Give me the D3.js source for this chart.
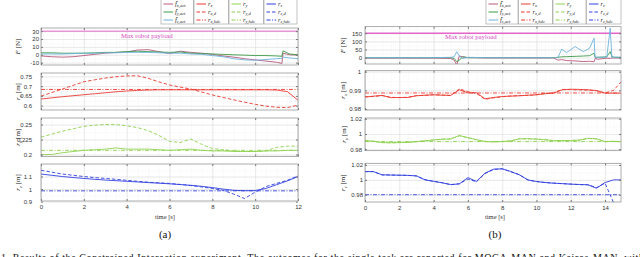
<!DOCTYPE html>
<html>
<head>
<meta charset="utf-8">
<script src="https://cdn.jsdelivr.net/npm/d3@7"></script>
<style>
  body { margin: 0; background: #fff; }
  svg { display: block; font-family: "Liberation Serif", "DejaVu Serif", serif; }
</style>
</head>
<body>
<div id="chart"></div>
<script>
// ---- panel (a) data ----
var aTime = [0,0.5,1,1.5,2,2.5,3,3.5,4,4.5,5,5.5,6,6.5,7,7.5,8,8.5,9,9.5,10,10.5,11,11.5,12];
var aEnds = [0, 12];
var aForceTime = [0,0.5,1,1.5,2,2.5,3,3.5,4,4.5,5,5.5,6,6.5,7,7.5,8,8.5,9,9.5,10,10.5,11,11.25,11.3,11.6,12];
var aFx = [-1.5,-2.5,-3,-2.5,-1,0.5,2,3,3.5,6,6.5,4,1.5,4.5,3,2,0.5,-1.5,-3,-5,-6.5,-8,-9.5,-11,2,0,-0.5];
var aFy = [2.5,2.5,2,2,2,2.5,3,3,4,4.5,4,3.5,3,3.5,2,1.5,1,0.5,0,-0.5,-1,-1,-1.5,-2,5,1,0];
var aFz = [1,1,1,1.5,2,2,2.5,2.5,3,3,3,2.5,2,2,1,0.5,-1,-2.5,-5,-6.5,-7,-6,-5,-4.5,-3,-4,-5];
var aPayload = [30, 30];
var aRx = [0.634,0.640,0.646,0.651,0.656,0.661,0.666,0.671,0.675,0.678,0.680,0.681,0.681,0.681,0.681,0.681,0.681,0.681,0.681,0.681,0.681,0.681,0.680,0.672,0.628];
var aRxD = [0.649,0.667,0.685,0.704,0.722,0.732,0.741,0.748,0.752,0.753,0.740,0.722,0.706,0.695,0.685,0.670,0.655,0.642,0.630,0.618,0.607,0.598,0.592,0.590,0.603];
var aRxHdc = [0.683, 0.683];
var aRy = [0.200,0.200,0.203,0.205,0.207,0.208,0.209,0.211,0.209,0.209,0.209,0.208,0.207,0.208,0.209,0.207,0.206,0.206,0.205,0.205,0.205,0.206,0.206,0.207,0.207];
var aRyD = [0.229,0.234,0.239,0.243,0.247,0.249,0.250,0.250,0.248,0.245,0.240,0.232,0.222,0.220,0.226,0.217,0.210,0.208,0.206,0.205,0.205,0.206,0.212,0.214,0.214];
var aRyHdc = [0.207, 0.207];
var aRz = [1.120,1.110,1.100,1.092,1.085,1.078,1.072,1.067,1.062,1.057,1.052,1.047,1.042,1.036,1.030,1.022,1.012,1.000,0.990,0.987,0.988,1.005,1.035,1.065,1.100];
var aRzD = [1.150,1.135,1.120,1.110,1.100,1.092,1.085,1.078,1.070,1.062,1.055,1.050,1.045,1.037,1.028,1.017,1.005,0.990,0.960,0.925,0.975,1.020,1.045,1.070,1.105];
var aRzHdc = [0.986, 0.986];

// ---- panel (b) data ----
var bTime = [0,0.5,1,1.5,2,2.5,3,3.5,4,4.5,5,5.5,6,6.5,7,7.5,8,8.5,9,9.5,10,10.5,11,11.5,12,12.5,13,13.5,14,14.5,14.93];
var bEnds = [0, 14.93];
var bForceTime = [0,1,2,3,4,5,5.2,5.35,5.5,5.7,6,7,8,9,10,11,11.26,11.47,11.76,12.25,12.73,13.1,13.36,13.42,13.6,14.1,14.3,14.4,14.6,14.93];
var bFx = [-3,-3,-3,-3,-3,-5,-15,-45,10,5,0,-2,-2,-2,-2,-2,-15,-12,-18,-20,-24,-22,-25,-5,-10,-3,-5,-2,-2,-2];
var bFy = [0,0,0,0,0,0,-5,-25,-15,5,0,0,0,0,0,0,2,5,6,8,10,12,27,3,2,5,37,5,2,2];
var bFz = [0,0,0,0,0,2,5,37,10,-5,2,0,0,0,0,0,2,52,31,68,37,58,120,0,3,2,181,0,3,2];
var bPayload = [150, 150];
var bRx = [.9864,.9869,.9873,.9861,.9862,.9862,.9871,.9874,.9876,.9874,.9873,.9903,.9887,.9887,.9855,.9862,.9867,.9869,.9871,.9874,.9876,.9882,.9885,.9903,.9906,.9905,.9903,.9899,.9885,.9885,.9885];
var bRxD = [.9866,.9867,.9872,.9863,.9861,.9863,.9872,.9873,.9877,.9875,.9872,.9908,.9893,.9884,.9852,.9860,.9866,.9870,.9872,.9873,.9877,.9883,.9887,.9905,.9904,.9902,.9901,.9898,.9886,.9900,.9945];
var bRxHdc = [.9886, .9886];
var bRy = [.9912,.9905,.9886,.9885,.9886,.9888,.9900,.9910,.9922,.9930,.9935,.9980,.9950,.9925,.9900,.9898,.9900,.9910,.9935,.9938,.9932,.9925,.9912,.9915,.9912,.9920,.9943,.9935,.9900,.9902,.9900];
var bRyD = [.9915,.9903,.9888,.9883,.9888,.9890,.9898,.9912,.9920,.9933,.9933,.9975,.9955,.9922,.9903,.9895,.9902,.9908,.9938,.9935,.9935,.9922,.9915,.9912,.9915,.9918,.9940,.9938,.9898,.9905,.9895];
var bRyHdc = [.990, .990];
var bRz = [1.0113,1.0110,1.0068,1.0065,1.0063,1.0060,1.0054,1.0000,.9981,.9960,.9937,.9945,1.0030,.9980,1.0090,1.0144,1.0148,1.0113,1.0068,1.0000,.9977,.9965,.9955,.9950,.9942,.9938,.9933,.9888,.9964,1.0000,1.0000];
var bRzD = [1.0110,1.0112,1.0066,1.0066,1.0062,1.0061,1.0052,1.0002,.9979,.9962,.9935,.9948,1.0010,.9975,1.0085,1.0140,1.0150,1.0110,1.0070,.9998,.9978,.9963,.9957,.9948,.9944,.9936,.9935,.9895,.9955,.9690,.9550];
var bRzHdc = [.98, .98];

// ---- tick labels ----
var aXTicks = [0,2,4,6,8,10,12];
var bXTicks = [0,2,4,6,8,10,12,14];
var aFTicks = [-10,0,10,20,30];
var aRxTicks = [0.6,0.65,0.7,0.75];
var aRyTicks = [0.2,0.225,0.25];
var aRzTicks = [0.9,1,1.1];
var bFTicks = [0,50,100,150];
var bRxTicks = [0.98,0.99,1];
var bRyTicks = [0.98,1,1.02];
var bRzTicks = [0.98,1,1.02];

var C = {
    fx: "#b8577a", fy: "#3b9b47", fz: "#6db3e0",
    rx: "#ec3a30", ry: "#8fd14f", rz: "#3040e0",
    pay: "#e665c8", payText: "#d94bbf"
};
var DASH = "3.5,2", DASHDOT = "4,1.5,1,1.5";

var svg = d3.select("#chart").append("svg")
        .attr("width", 640)
        .attr("height", 257);

function yLabel(g, x, y, sym, sub, unit) {
    var t = g.append("text")
            .attr("transform", "translate(" + x + "," + y + ") rotate(-90)")
            .attr("text-anchor", "middle")
            .style("font-size", "7px")
            .attr("fill", "#222");
    t.append("tspan").style("font-style", "italic").text(sym);
    if (sub) t.append("tspan").attr("dy", 1.5).style("font-size", "5px").style("font-style", "italic").text(sub);
    t.append("tspan").attr("dy", sub ? -1.5 : 0).text(" [" + unit + "]");
}

function drawPanel(p) {
    var x = d3.scaleLinear().domain(p.xDomain).range([p.x0, p.x1]);
    var width = p.x1 - p.x0;

    p.rows.forEach(function (r, ri) {
        var y = d3.scaleLinear().domain(r.domain).range([r.bottom, r.top]);
        var h = r.bottom - r.top;
        var g = svg.append("g");
        var clipId = "clip-" + p.name + ri;

        svg.append("clipPath").attr("id", clipId)
                .append("rect").attr("x", p.x0).attr("y", r.top).attr("width", width).attr("height", h);

        // minor grid
        var minorX = d3.range(p.xDomain[0], p.xDomain[1], 0.5);
        g.append("g")
                .attr("transform", "translate(0," + r.bottom + ")")
                .call(d3.axisBottom(x).tickValues(minorX).tickSize(-h).tickFormat(""))
                .call(function (s) { s.select(".domain").remove(); })
                .selectAll("line").attr("stroke", "#ececec").attr("stroke-width", 0.5).attr("stroke-dasharray", "1,1");
        var step = r.ticks[1] - r.ticks[0];
        var minorY = d3.range(r.ticks[0] - step, r.ticks[r.ticks.length - 1] + step * 1.01, step / 2)
                .filter(function (v) { return v >= r.domain[0] && v <= r.domain[1]; });
        g.append("g")
                .attr("transform", "translate(" + p.x0 + ",0)")
                .call(d3.axisLeft(y).tickValues(minorY).tickSize(-width).tickFormat(""))
                .call(function (s) { s.select(".domain").remove(); })
                .selectAll("line").attr("stroke", "#ececec").attr("stroke-width", 0.5).attr("stroke-dasharray", "1,1");

        // major grid
        g.append("g")
                .attr("transform", "translate(0," + r.bottom + ")")
                .call(d3.axisBottom(x).tickValues(p.xTicks).tickSize(-h).tickFormat(""))
                .call(function (s) { s.select(".domain").remove(); })
                .selectAll("line").attr("stroke", "#dedede").attr("stroke-width", 0.6);
        g.append("g")
                .attr("transform", "translate(" + p.x0 + ",0)")
                .call(d3.axisLeft(y).tickValues(r.ticks).tickSize(-width).tickFormat(""))
                .call(function (s) { s.select(".domain").remove(); })
                .selectAll("line").attr("stroke", "#dedede").attr("stroke-width", 0.6);

        // series
        var lg = g.append("g").attr("clip-path", "url(#" + clipId + ")");
        r.series.forEach(function (s) {
            var pts = s.t.map(function (t, i) { return [t, s.v[i]]; });
            lg.append("path")
                    .datum(pts)
                    .attr("fill", "none")
                    .attr("stroke", s.color)
                    .attr("stroke-width", s.w || 0.9)
                    .attr("stroke-dasharray", s.dash || null)
                    .attr("stroke-linejoin", "round")
                    .attr("d", d3.line().x(function (d) { return x(d[0]); }).y(function (d) { return y(d[1]); }));
        });

        if (r.payloadText) {
            g.append("text")
                    .attr("x", r.payloadText[0]).attr("y", r.payloadText[1])
                    .attr("fill", C.payText)
                    .style("font-size", "6.8px")
                    .text("Max robot payload");
        }

        // axes with inner ticks
        var yAxis = g.append("g")
                .attr("transform", "translate(" + p.x0 + ",0)")
                .call(d3.axisLeft(y).tickValues(r.ticks).tickSize(-2).tickPadding(r.pad)
                        .tickFormat(function (d) { return String(d); }));
        yAxis.select(".domain").remove();
        yAxis.selectAll("line").attr("stroke", "#777");
        yAxis.selectAll("text").style("font-size", "6px").attr("fill", "#333").attr("font-family", null);
        g.append("g")
                .attr("transform", "translate(" + p.x1 + ",0)")
                .call(d3.axisRight(y).tickValues(r.ticks).tickSize(-2).tickFormat(""))
                .call(function (s) { s.select(".domain").remove(); })
                .selectAll("line").attr("stroke", "#777");
        g.append("g")
                .attr("transform", "translate(0," + r.top + ")")
                .call(d3.axisTop(x).tickValues(p.xTicks).tickSize(-2).tickFormat(""))
                .call(function (s) { s.select(".domain").remove(); })
                .selectAll("line").attr("stroke", "#777");
        var xAxis = g.append("g")
                .attr("transform", "translate(0," + r.bottom + ")")
                .call(d3.axisBottom(x).tickValues(p.xTicks).tickSize(-2)
                        .tickPadding(4).tickFormat(ri === p.rows.length - 1 ? d3.format("d") : ""));
        xAxis.select(".domain").remove();
        xAxis.selectAll("line").attr("stroke", "#777");
        xAxis.selectAll("text").style("font-size", "6px").attr("fill", "#333").attr("font-family", null);

        g.append("rect")
                .attr("x", p.x0).attr("y", r.top).attr("width", width).attr("height", h)
                .attr("fill", "none").attr("stroke", "#8a8a8a").attr("stroke-width", 0.7);

        yLabel(g, r.labelX, (r.top + r.bottom) / 2, r.label[0], r.label[1], r.label[2]);
    });

    svg.append("text")
            .attr("x", p.xTitle).attr("y", 219)
            .attr("text-anchor", "middle")
            .style("font-size", "6.5px").attr("fill", "#333")
            .text("time [s]");
    svg.append("text")
            .attr("x", p.xTitle).attr("y", 238)
            .attr("text-anchor", "middle")
            .style("font-size", "11px").attr("fill", "#111")
            .text(p.tag);

    // legend
    var boxes = [
        [{c: C.fx, s: "f\u0302", sub: "x,act"}, {c: C.fy, s: "f\u0302", sub: "y,act"}, {c: C.fz, s: "f\u0302", sub: "z,act"}],
        [{c: C.rx, s: "r", sub: "x"}, {c: C.rx, s: "r", sub: "x,d", d: DASH}, {c: C.rx, s: "r", sub: "x,hdc", d: DASHDOT}],
        [{c: C.ry, s: "r", sub: "y"}, {c: C.ry, s: "r", sub: "y,d", d: DASH}, {c: C.ry, s: "r", sub: "y,hdc", d: DASHDOT}],
        [{c: C.rz, s: "r", sub: "z"}, {c: C.rz, s: "r", sub: "z,d", d: DASH}, {c: C.rz, s: "r", sub: "z,hdc", d: DASHDOT}]
    ];
    boxes.forEach(function (items, bi) {
        var bx = p.legend[bi][0], bw = p.legend[bi][1] - p.legend[bi][0];
        var lg = svg.append("g");
        lg.append("rect").attr("x", bx).attr("y", -3).attr("width", bw).attr("height", 27)
                .attr("fill", "#fff").attr("stroke", "#999").attr("stroke-width", 0.6);
        items.forEach(function (it, k) {
            var yy = 4 + k * 8;
            lg.append("line").attr("x1", bx + 2.5).attr("x2", bx + 12).attr("y1", yy).attr("y2", yy)
                    .attr("stroke", it.c).attr("stroke-width", 1).attr("stroke-dasharray", it.d || null);
            var t = lg.append("text").attr("x", bx + 14).attr("y", yy + 2)
                    .style("font-size", "6.5px").style("font-style", "italic").attr("fill", "#222");
            t.append("tspan").text(it.s);
            t.append("tspan").attr("dy", 1.3).style("font-size", "4.5px").text(it.sub);
        });
    });
}

drawPanel({
    name: "a", tag: "(a)", xDomain: [0, 12], x0: 41, x1: 298, xTicks: aXTicks, xTitle: 165,
    legend: [[161, 193.5], [194, 228.5], [229, 263.5], [264, 297]],
    rows: [
        {domain: [-13, 34], top: 28, bottom: 65, ticks: aFTicks, pad: 2, labelX: 20, label: ["F", "", "N"],
            payloadText: [121, 37.5],
            series: [
                {t: aEnds, v: aPayload, color: C.pay, w: 1},
                {t: aForceTime, v: aFx, color: C.fx},
                {t: aForceTime, v: aFy, color: C.fy},
                {t: aForceTime, v: aFz, color: C.fz}
            ]},
        {domain: [0.578, 0.767], top: 73, bottom: 110, ticks: aRxTicks, pad: 9, labelX: 20, label: ["r", "x", "m"],
            series: [
                {t: aEnds, v: aRxHdc, color: C.rx, dash: DASHDOT},
                {t: aTime, v: aRxD, color: C.rx, dash: DASH},
                {t: aTime, v: aRx, color: C.rx}
            ]},
        {domain: [0.1967, 0.261], top: 118, bottom: 156.5, ticks: aRyTicks, pad: 9, labelX: 20, label: ["r", "y", "m"],
            series: [
                {t: aEnds, v: aRyHdc, color: C.ry, dash: DASHDOT},
                {t: aTime, v: aRyD, color: C.ry, dash: DASH},
                {t: aTime, v: aRy, color: C.ry}
            ]},
        {domain: [0.905, 1.2], top: 164, bottom: 201, ticks: aRzTicks, pad: 9, labelX: 20, label: ["r", "z", "m"],
            series: [
                {t: aEnds, v: aRzHdc, color: C.rz, dash: DASHDOT},
                {t: aTime, v: aRzD, color: C.rz, dash: DASH},
                {t: aTime, v: aRz, color: C.rz}
            ]}
    ]
});

drawPanel({
    name: "b", tag: "(b)", xDomain: [0, 14.93], x0: 365, x1: 621, xTicks: bXTicks, xTitle: 495,
    legend: [[486, 518], [518.5, 552.5], [553, 586], [586.5, 621]],
    rows: [
        {domain: [-39, 190], top: 26.7, bottom: 64, ticks: bFTicks, pad: 3, labelX: 345, label: ["F", "", "N"],
            payloadText: [445, 38.5],
            series: [
                {t: bEnds, v: bPayload, color: C.pay, w: 1.6},
                {t: bForceTime, v: bFx, color: C.fx},
                {t: bForceTime, v: bFy, color: C.fy},
                {t: bForceTime, v: bFz, color: C.fz}
            ]},
        {domain: [0.9795, 1.0005], top: 70.7, bottom: 110, ticks: bRxTicks, pad: 4, labelX: 345, label: ["r", "x", "m"],
            series: [
                {t: bEnds, v: bRxHdc, color: C.rx, dash: DASHDOT},
                {t: bTime, v: bRxD, color: C.rx, dash: DASH},
                {t: bTime, v: bRx, color: C.rx}
            ]},
        {domain: [0.978, 1.021], top: 118, bottom: 150.7, ticks: bRyTicks, pad: 3, labelX: 346, label: ["r", "y", "m"],
            series: [
                {t: bEnds, v: bRyHdc, color: C.ry, dash: DASHDOT},
                {t: bTime, v: bRyD, color: C.ry, dash: DASH},
                {t: bTime, v: bRy, color: C.ry}
            ]},
        {domain: [0.9702, 1.0223], top: 163.3, bottom: 202, ticks: bRzTicks, pad: 2, labelX: 345, label: ["r", "z", "m"],
            series: [
                {t: bEnds, v: bRzHdc, color: C.rz, dash: DASHDOT},
                {t: bTime, v: bRzD, color: C.rz, dash: DASH},
                {t: bTime, v: bRz, color: C.rz}
            ]}
    ]
});

// figure caption, clipped by the bottom edge
svg.append("text")
        .attr("x", 1).attr("y", 261)
        .style("font-size", "10px").attr("fill", "#111")
        .attr("textLength", 660).attr("lengthAdjust", "spacing")
        .text("1.  Results of the Constrained Interaction experiment. The outcomes for the single task are reported for MOCA-MAN and Kairos-MAN, with the");
</script>
</body>
</html>
